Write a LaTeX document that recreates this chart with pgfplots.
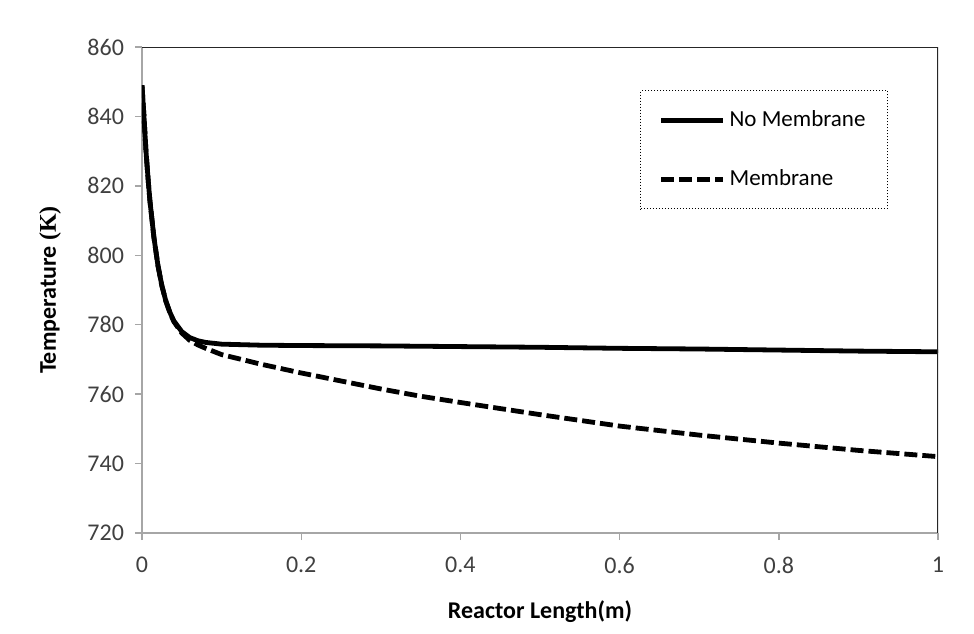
\documentclass[border=0pt]{standalone}
\usepackage{fontspec}
\setmainfont{Carlito}
\newfontfamily\timesfont{Liberation Serif}
\usepackage{pgfplots}
\pgfplotsset{compat=1.18}
\definecolor{axisgrey}{HTML}{A6A6A6}
\definecolor{ticktext}{HTML}{404040}

\begin{document}
\begin{tikzpicture}
\begin{axis}[
  scale only axis,
  width=398pt, height=243pt,
  xmin=0, xmax=1, ymin=720, ymax=860,
  xtick={0,0.2,0.4,0.6,0.8,1},
  ytick={720,740,...,860},
  axis lines*=left,
  axis line style={axisgrey, line width=0.7pt},
  tick style={axisgrey, line width=0.7pt},
  tick align=outside,
  major tick length=3.5pt,
  /pgf/number format/assume math mode=true,
  tick label style={font=\fontsize{12}{14}\selectfont, color=ticktext},
  xticklabel style={yshift=-5pt},
  yticklabel style={xshift=-2pt},
  xlabel={\bfseries Reactor Length(m)},
  ylabel={\bfseries Temperature {\timesfont\bfseries(K)}},
  label style={font=\fontsize{12}{14}\selectfont, color=black},
  xlabel style={at={(axis description cs:0.5,-0.1626)}, anchor=center},
  ylabel style={at={(axis description cs:-0.1156,0.5)}, anchor=center},
  legend style={
    at={(0.626,0.911)}, anchor=north west,
    draw=black, densely dotted, line width=0.5pt,
    fill=white,
    font=\fontsize{11.5}{14}\selectfont,
    inner xsep=9pt, inner ysep=8pt,
    row sep=16pt,
    legend cell align=left,
  },
  legend image code/.code={
    \draw[#1] (0pt,0pt) -- (31pt,0pt);
  },
  clip=true,
]
% No membrane
\addplot[solid, black, line width=2.4pt] coordinates {
  (0,849) (0.0025,840) (0.005,830) (0.008,821) (0.01,815.6) (0.015,805.1)
  (0.02,797.1) (0.025,791.2) (0.03,786.8) (0.035,783.6) (0.04,781.1)
  (0.05,778.0) (0.06,776.3) (0.07,775.4) (0.08,774.9) (0.1,774.4)
  (0.15,774.1) (0.2,774.0) (0.3,773.9) (0.4,773.7) (0.5,773.5)
  (0.6,773.2) (0.7,773.0) (0.8,772.7) (0.9,772.4) (1.0,772.2)
};
% Membrane
\addplot[black, line width=2.4pt, dash pattern=on 6.5pt off 2.5pt] coordinates {
  (0,849) (0.0025,840) (0.005,830) (0.008,821) (0.01,815.6) (0.015,805.1)
  (0.02,797.1) (0.025,791.2) (0.03,786.8) (0.035,783.5) (0.04,780.9)
  (0.05,777.6) (0.06,775.5) (0.07,774.2) (0.08,773.2) (0.1,771.4)
  (0.15,768.6) (0.2,766.1) (0.25,763.8) (0.3,761.5) (0.35,759.4)
  (0.4,757.6) (0.5,754.1) (0.6,750.8) (0.7,748.2) (0.8,745.9)
  (0.9,743.8) (1.0,742.0)
};
\legend{No Membrane, Membrane}
\draw[black!85, line width=0.7pt] (rel axis cs:0,1) -- (rel axis cs:1,1) -- (rel axis cs:1,0);
\end{axis}
\pgfresetboundingbox
\path (current axis.south west) ++(-71pt,-50pt) coordinate (bbsw);
\path (current axis.north east) ++(18pt,23.5pt) coordinate (bbne);
\path[use as bounding box] (bbsw) rectangle (bbne);
\end{tikzpicture}
\end{document}
